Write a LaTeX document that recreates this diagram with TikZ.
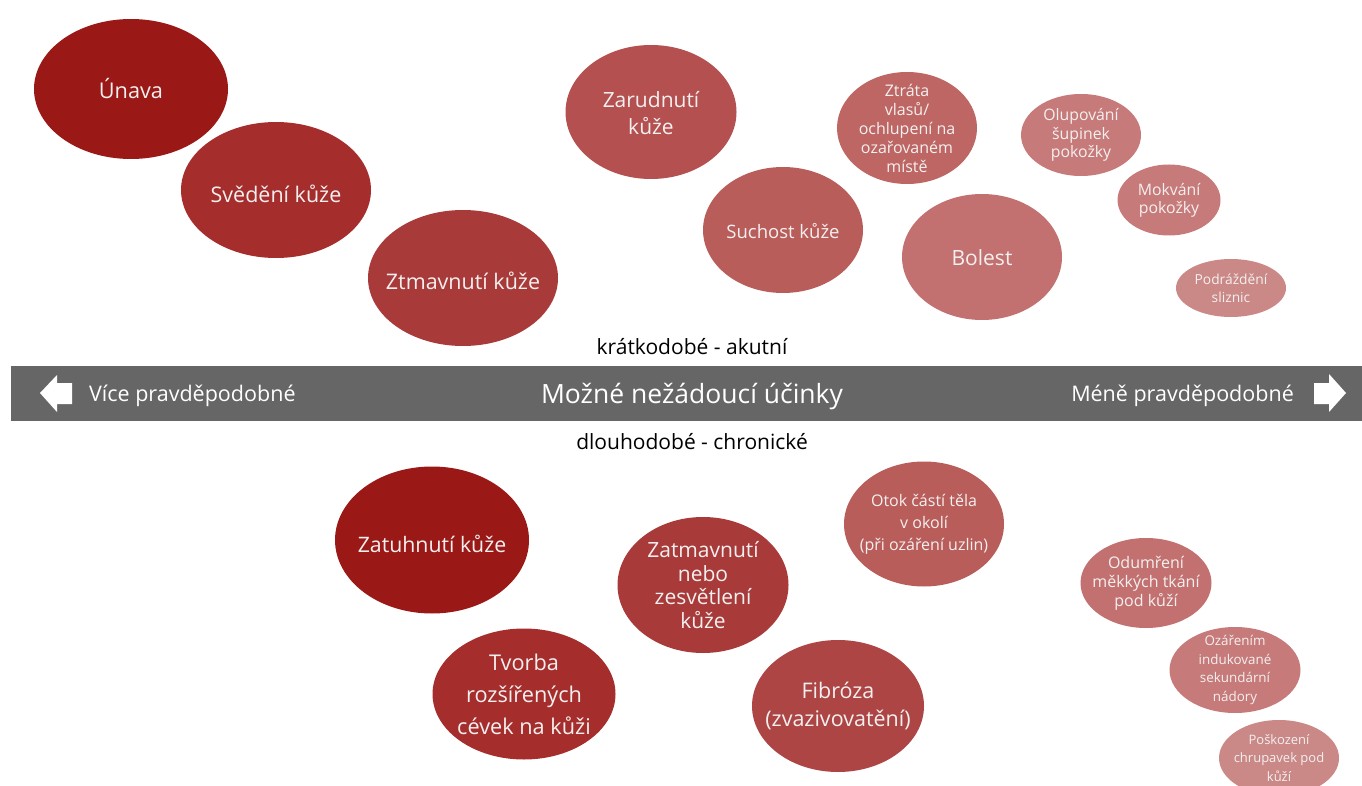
\documentclass[tikz,border=0pt]{standalone}
\usepackage{fontspec}
\setmainfont{Open Sans}
\usetikzlibrary{shapes.geometric}
\definecolor{cA}{HTML}{9A1917}
\definecolor{cB}{HTML}{A52E2D}
\definecolor{cC}{HTML}{A83A3A}
\definecolor{cD}{HTML}{AD4545}
\definecolor{cE}{HTML}{B45050}
\definecolor{cF}{HTML}{B95D5B}
\definecolor{cG}{HTML}{BD6664}
\definecolor{cH}{HTML}{C27170}
\definecolor{cI}{HTML}{C67B7A}
\definecolor{cJ}{HTML}{CA8886}
\definecolor{barc}{HTML}{666666}
\definecolor{txt}{HTML}{F4F0F0}
\newcommand{\fs}[2]{\fontsize{#1pt}{#2pt}\selectfont}
\tikzset{
  bub/.style n args={3}{ellipse, fill=#1, draw=none, inner sep=0pt,
    minimum width=#2, minimum height=#3},
  bubtxt/.style={text=txt, align=center, inner sep=0pt},
  lbl/.style={text=black, inner sep=0pt},
  barlbl/.style={text=white, inner sep=0pt, yshift=-3pt},
}
% #1 name, #2 colour, #3 width, #4 height, #5 position, #6 font + shift, #7 text
\newcommand{\bubble}[7]{%
  \node[bub={#2}{#3}{#4}] (#1) at (#5) {};
  \node[bubtxt, #6] (#1-t) at (#1.center) {#7};
}
\begin{document}
\begin{tikzpicture}[x=1pt,y=-1pt]
\useasboundingbox (0,0) rectangle (1362,786);
% upper row (short-term)
\bubble{unava}{cA}{194}{140}{131,89}{font=\fs{21.7}{26}}{Únava}
\bubble{svedeni}{cB}{190}{136}{276,190}{font=\fs{21.5}{26}, yshift=-3.5pt}{Svědění kůže}
\bubble{ztmav}{cC}{190}{136}{463,278}{font=\fs{21.5}{26}, yshift=-3pt}{Ztmavnutí kůže}
\bubble{zarud}{cE}{171}{134}{651,112}{font=\fs{21}{27}, yshift=-1.5pt}{Zarudnutí\\kůže}
\bubble{suchost}{cF}{160}{126}{783,230}{font=\fs{18.5}{22}, yshift=-1pt}{Suchost kůže}
\bubble{ztrata}{cG}{140}{112}{907,128}{font=\fs{16}{19}}{Ztráta\\vlasů/\\ochlupení na\\ozařovaném\\místě}
\bubble{bolest}{cH}{160}{126}{982,257}{font=\fs{21}{26}, yshift=-1pt}{Bolest}
\bubble{olup}{cI}{120}{82}{1081,135}{font=\fs{15.8}{18.3}}{Olupování\\šupinek\\pokožky}
\bubble{mokv}{cI}{103}{71}{1169,200}{font=\fs{15.8}{18.3}}{Mokvání\\pokožky}
\bubble{podr}{cJ}{110}{58}{1231,288}{font=\fs{13.8}{17.7}}{Podráždění\\sliznic}
% bar
\node[lbl, font=\fs{21}{25}] (kratko) at (692,347) {krátkodobé - akutní};
\fill[barc] (11,366) rectangle (1362,421);
\fill[white] (40,393) -- (57,375) -- (57,383) -- (72,383) -- (72,404) -- (57,404) -- (57,412) -- cycle;
\fill[white] (1346,393) -- (1329,374) -- (1329,383) -- (1314,383) -- (1314,404) -- (1329,404) -- (1329,412) -- cycle;
\node[barlbl, font=\fs{21.5}{25}, anchor=west] (vice) at (89,393) {Více pravděpodobné};
\node[barlbl, font=\fs{26.5}{30}] (title) at (692,394) {Možné nežádoucí účinky};
\node[barlbl, font=\fs{21.5}{25}, anchor=east] (mene) at (1294,393) {Méně pravděpodobné};
\node[lbl, font=\fs{21}{25}] (dlouho) at (692,442) {dlouhodobé - chronické};
% lower row (long-term)
\bubble{zatuh}{cA}{194}{147}{432,540}{font=\fs{21.3}{26}, yshift=-4pt}{Zatuhnutí kůže}
\bubble{zatmav}{cC}{171}{136}{703,585}{font=\fs{21}{23.5}}{Zatmavnutí\\nebo\\zesvětlení\\kůže}
\bubble{tvorba}{cB}{183}{131}{524,694}{font=\fs{21.7}{32}}{Tvorba\\rozšířených\\cévek na kůži}
\bubble{fibroza}{cD}{172}{132}{838,706}{font=\fs{21.5}{28.7}}{Fibróza\\(zvazivovatění)}
\bubble{otok}{cF}{160}{125}{924,524}{font=\fs{16}{21.8}}{Otok částí těla\\v okolí\\(při ozáření uzlin)}
\bubble{odumr}{cH}{131}{90}{1146,583}{font=\fs{16}{19}}{Odumření\\měkkých tkání\\pod kůží}
\bubble{ozar}{cI}{131}{86}{1235,670}{font=\fs{13.4}{18.5}}{Ozářením\\indukované\\sekundární\\nádory}
\bubble{posk}{cJ}{120}{76}{1279,758}{font=\fs{13}{18.3}}{Poškození\\chrupavek pod\\kůží}
\end{tikzpicture}
\end{document}
